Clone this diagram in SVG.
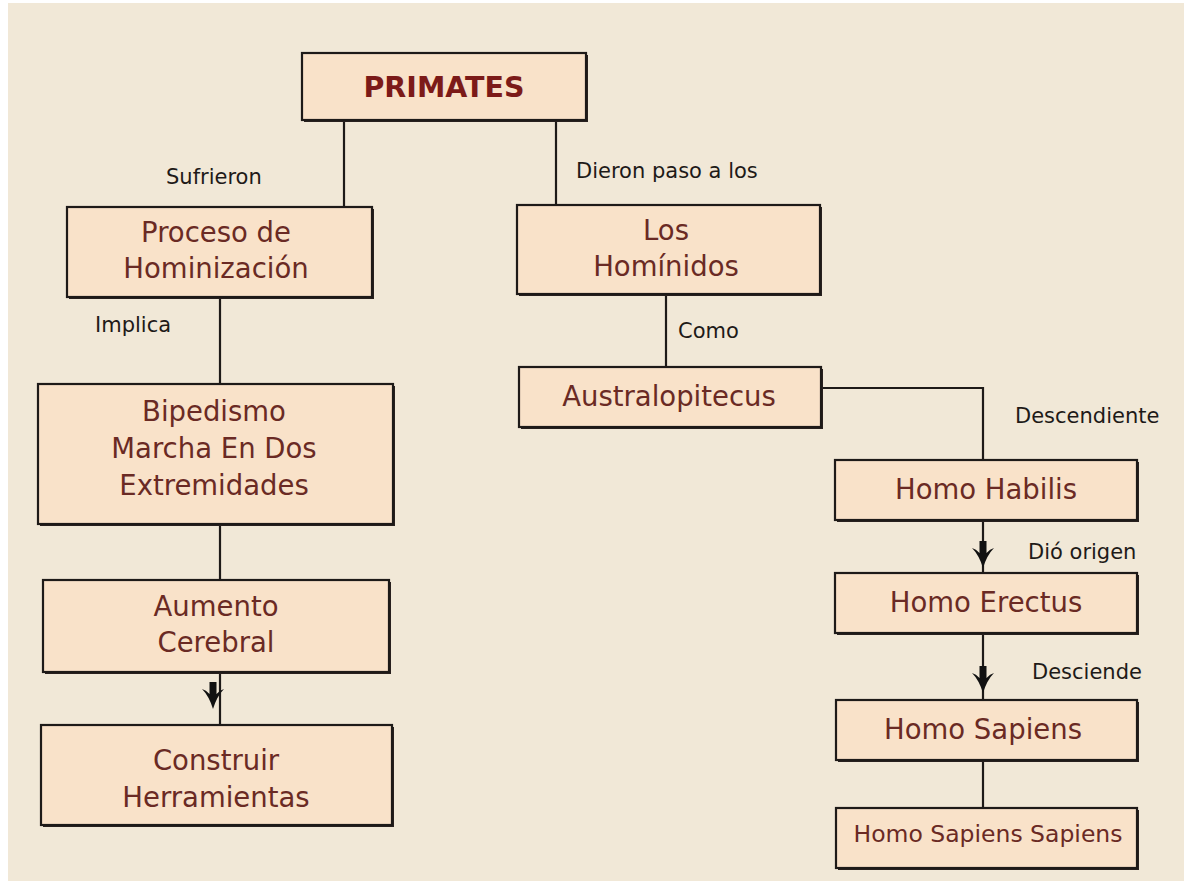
<svg xmlns="http://www.w3.org/2000/svg" xmlns:xlink="http://www.w3.org/1999/xlink" width="1184" height="881" viewBox="0 0 1184 881">
<style>
.box{fill:#F9E2C9;stroke:#1e1a18;stroke-width:2.2}
.sh{fill:#2a2220}
.t{font-family:"DejaVu Sans",Verdana,sans-serif;font-size:27.5px;fill:#6A2A24;text-anchor:middle}
.tb{font-family:"DejaVu Sans",Verdana,sans-serif;font-size:28.5px;font-weight:bold;fill:#7C1A18;text-anchor:middle}
.lbl{font-family:"DejaVu Sans",Verdana,sans-serif;font-size:21px;fill:#1e1a18}
.ln{fill:none;stroke:#1e1a18;stroke-width:2.2}
</style>
<defs>
<path id="arr" d="M-3.5,-18 L3.5,-18 L3.5,-6 Q7,-10 11,-11 Q4,-4 0,9 Q-4,-4 -11,-11 Q-7,-10 -3.5,-6 Z" fill="#111"/>
</defs>
<rect x="0" y="0" width="1184" height="881" fill="#ffffff"/>
<rect x="8" y="3" width="1176" height="878" fill="#F1E8D7"/>

<g id="connectors">
<path class="ln" d="M344,120 V207"/>
<path class="ln" d="M556,120 V205"/>
<path class="ln" d="M220,297 V384"/>
<path class="ln" d="M220,524 V580"/>
<path class="ln" d="M220,672 V725"/>
<use xlink:href="#arr" x="213" y="700"/>
<path class="ln" d="M666,294 V367"/>
<path class="ln" d="M821,388 H983 V460"/>
<path class="ln" d="M983,520 V573"/>
<use xlink:href="#arr" x="983" y="559"/>
<path class="ln" d="M983,633 V700"/>
<use xlink:href="#arr" x="983" y="684"/>
<path class="ln" d="M983,760 V808"/>
<text class="lbl" x="166" y="184">Sufrieron</text>
<text class="lbl" x="576" y="178">Dieron paso a los</text>
<text class="lbl" x="95" y="332">Implica</text>
<text class="lbl" x="678" y="338">Como</text>
<text class="lbl" x="1015" y="423">Descendiente</text>
<text class="lbl" x="1028" y="559">Dió origen</text>
<text class="lbl" x="1032" y="679">Desciende</text>
</g>

<g id="primates">
<rect class="sh" x="304" y="55" width="284" height="67"/>
<rect class="box" x="302" y="53" width="284" height="67"/>
<text class="tb" x="444" y="97">PRIMATES</text>
</g>
<g id="proceso">
<rect class="sh" x="69" y="209" width="305" height="90"/>
<rect class="box" x="67" y="207" width="305" height="90"/>
<text class="t" x="216" y="242">Proceso de</text>
<text class="t" x="216" y="278">Hominización</text>
</g>
<g id="hominidos">
<rect class="sh" x="519" y="207" width="303" height="89"/>
<rect class="box" x="517" y="205" width="303" height="89"/>
<text class="t" x="666" y="240">Los</text>
<text class="t" x="666" y="276">Homínidos</text>
</g>
<g id="australopitecus">
<rect class="sh" x="521" y="369" width="302" height="60"/>
<rect class="box" x="519" y="367" width="302" height="60"/>
<text class="t" x="669" y="406">Australopitecus</text>
</g>
<g id="bipedismo">
<rect class="sh" x="40" y="386" width="355" height="140"/>
<rect class="box" x="38" y="384" width="355" height="140"/>
<text class="t" x="214" y="421">Bipedismo</text>
<text class="t" x="214" y="458">Marcha En Dos</text>
<text class="t" x="214" y="495">Extremidades</text>
</g>
<g id="aumento">
<rect class="sh" x="45" y="582" width="346" height="92"/>
<rect class="box" x="43" y="580" width="346" height="92"/>
<text class="t" x="216" y="616">Aumento</text>
<text class="t" x="216" y="652">Cerebral</text>
</g>
<g id="construir">
<rect class="sh" x="43" y="727" width="351" height="100"/>
<rect class="box" x="41" y="725" width="351" height="100"/>
<text class="t" x="216" y="770">Construir</text>
<text class="t" x="216" y="807">Herramientas</text>
</g>
<g id="habilis">
<rect class="sh" x="837" y="462" width="302" height="60"/>
<rect class="box" x="835" y="460" width="302" height="60"/>
<text class="t" x="986" y="499">Homo Habilis</text>
</g>
<g id="erectus">
<rect class="sh" x="837" y="575" width="302" height="60"/>
<rect class="box" x="835" y="573" width="302" height="60"/>
<text class="t" x="986" y="612">Homo Erectus</text>
</g>
<g id="sapiens">
<rect class="sh" x="838" y="702" width="301" height="60"/>
<rect class="box" x="836" y="700" width="301" height="60"/>
<text class="t" x="983" y="739">Homo Sapiens</text>
</g>
<g id="sapiens-sapiens">
<rect class="sh" x="838" y="810" width="301" height="60"/>
<rect class="box" x="836" y="808" width="301" height="60"/>
<text class="t" x="988" y="842" style="font-size:23.5px">Homo Sapiens Sapiens</text>
</g>
</svg>
